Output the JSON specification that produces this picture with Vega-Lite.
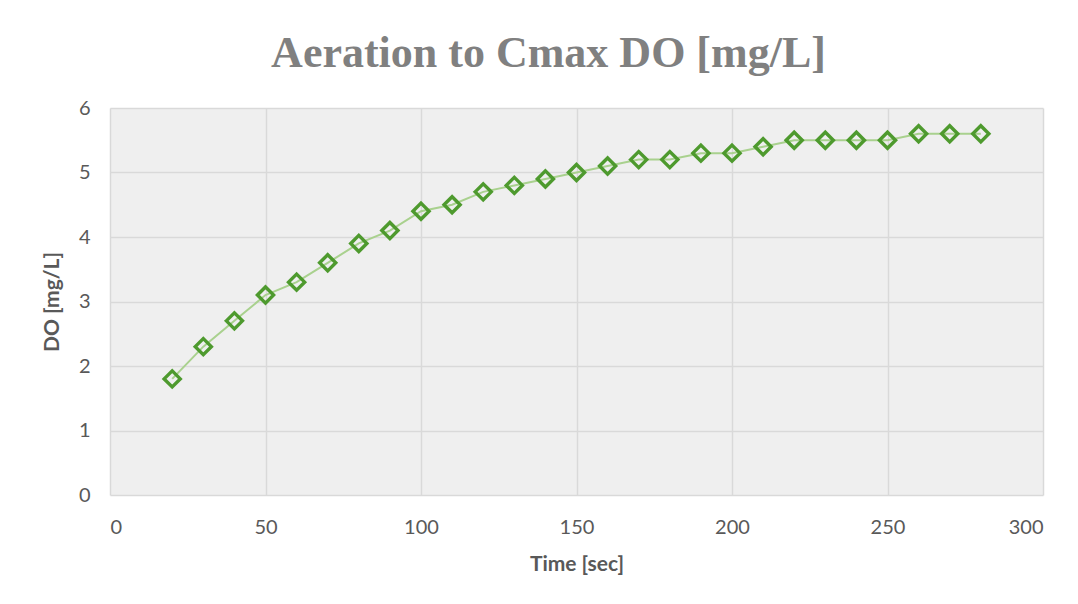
{
  "$schema": "https://vega.github.io/schema/vega-lite/v6.json",
  "width": 933,
  "height": 387,
  "autosize": {"type": "none"},
  "padding": {"left": 110, "top": 108, "right": 35, "bottom": 109},
  "background": "white",
  "title": {
    "text": "Aeration to Cmax DO [mg/L]",
    "font": "Liberation Serif",
    "fontSize": 44,
    "fontWeight": "bold",
    "color": "#808080",
    "anchor": "middle",
    "offset": 22,
    "dx": -28
  },
  "config": {
    "view": {"fill": "#efefef", "stroke": null},
    "axis": {
      "labelFont": "Lato",
      "labelFontSize": 20,
      "labelColor": "#595959",
      "titleFont": "Lato",
      "titleFontSize": 21,
      "titleFontWeight": "bold",
      "titleColor": "#595959",
      "gridColor": "#d9d9d9",
      "gridWidth": 1.5,
      "gridOpacity": 1,
      "ticks": false,
      "domain": false
    }
  },
  "data": {
    "values": [
      {"time": 20, "do": 1.8},
      {"time": 30, "do": 2.3},
      {"time": 40, "do": 2.7},
      {"time": 50, "do": 3.1},
      {"time": 60, "do": 3.3},
      {"time": 70, "do": 3.6},
      {"time": 80, "do": 3.9},
      {"time": 90, "do": 4.1},
      {"time": 100, "do": 4.4},
      {"time": 110, "do": 4.5},
      {"time": 120, "do": 4.7},
      {"time": 130, "do": 4.8},
      {"time": 140, "do": 4.9},
      {"time": 150, "do": 5.0},
      {"time": 160, "do": 5.1},
      {"time": 170, "do": 5.2},
      {"time": 180, "do": 5.2},
      {"time": 190, "do": 5.3},
      {"time": 200, "do": 5.3},
      {"time": 210, "do": 5.4},
      {"time": 220, "do": 5.5},
      {"time": 230, "do": 5.5},
      {"time": 240, "do": 5.5},
      {"time": 250, "do": 5.5},
      {"time": 260, "do": 5.6},
      {"time": 270, "do": 5.6},
      {"time": 280, "do": 5.6}
    ]
  },
  "encoding": {
    "x": {
      "field": "time",
      "type": "quantitative",
      "scale": {"domain": [0, 300], "nice": false, "zero": false},
      "axis": {"values": [0, 50, 100, 150, 200, 250, 300], "title": "Time [sec]", "labelPadding": 22, "titlePadding": 16}
    },
    "y": {
      "field": "do",
      "type": "quantitative",
      "scale": {"domain": [0, 6], "nice": false},
      "axis": {"values": [0, 1, 2, 3, 4, 5, 6], "title": "DO [mg/L]", "labelPadding": 20, "titlePadding": 16}
    }
  },
  "layer": [
    {"mark": {"type": "line", "color": "#a9d18e", "strokeWidth": 2}},
    {"mark": {"type": "point", "shape": "diamond", "size": 260, "filled": false, "stroke": "#4e9a2e", "strokeWidth": 3.4, "opacity": 1}}
  ]
}
